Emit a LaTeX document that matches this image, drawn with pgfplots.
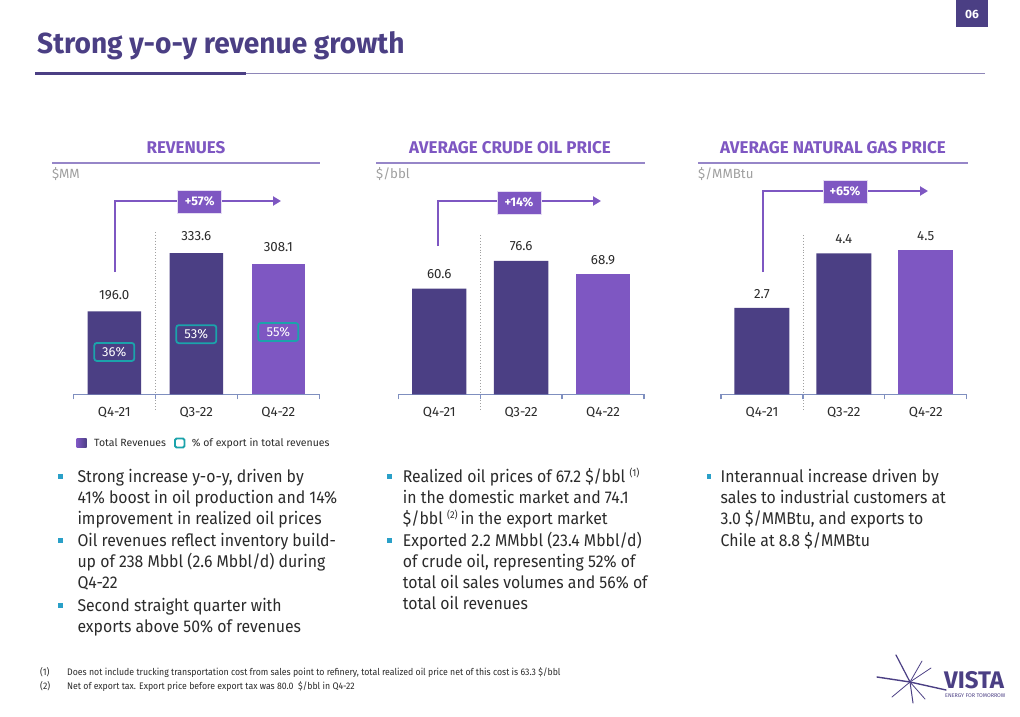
\documentclass[border=0pt]{standalone}
\usepackage{fontspec}
\setmainfont{Fira Sans}
\newfontfamily\bodyf{Fira Sans}[FakeStretch=0.93]
\newfontfamily\footf{Fira Sans}[FakeStretch=0.92]
\newfontfamily\titlef{Fira Sans}[FakeStretch=0.97]
\newfontfamily\condf{Fira Sans}[FakeStretch=0.85]
\usepackage{pgfplots}
\pgfplotsset{compat=1.18}
\usetikzlibrary{arrows.meta}

\definecolor{darkp}{HTML}{4B3F84}
\definecolor{lightp}{HTML}{7E57C2}
\definecolor{headc}{HTML}{7E57C2}
\definecolor{hline}{HTML}{9686C8}
\definecolor{tealc}{HTML}{1BA3AB}
\definecolor{axisc}{HTML}{7F8FBF}
\definecolor{textc}{HTML}{2B2B2B}
\definecolor{greyc}{HTML}{A0A0A0}
\definecolor{bulc}{HTML}{2AA0C8}
\definecolor{tline}{HTML}{8E86B8}

\newcommand\fs[2]{\fontsize{#1}{#2}\selectfont}
\newcommand\body{\bodyf\fs{17}{21}}
\newcommand\lab{\fs{13.3}{15}}
\newcommand\txt[3]{\node[anchor=base west,inner sep=0pt,font=\body,text=textc] at (#1,#2) {#3};}
\newcommand\bul[2]{\fill[bulc] (#1-2.3,#2-2.3) rectangle (#1+2.3,#2+2.3);}
\newcommand\sups[1]{\raisebox{6pt}{\fs{10}{12}(#1)}}

\pgfplotsset{vbar/.style={
  ybar, bar shift=0pt, scale only axis, clip=false, anchor=south west,
  xmin=-0.5, xmax=2.5, ymin=0, height=230pt,
  axis y line=none, axis x line*=bottom,
  x axis line style={draw=axisc, line width=1.3pt, -},
  xtick={0,1,2}, xticklabels={Q4-21,Q3-22,Q4-22},
  major tick length=0pt,
  minor xtick={-0.5,0.5,1.5,2.5}, minor tick length=5pt, tick align=outside,
  minor tick style={draw=axisc, line width=1.3pt},
  xticklabel style={font=\lab, text=textc, yshift=-9pt},
  /pgf/number format/assume math mode=true,
  nodes near coords={\pgfmathprintnumber[fixed,fixed zerofill,precision=1]{\pgfplotspointmeta}},
  every node near coord/.append style={font=\lab, text=textc, anchor=center},
}}

\begin{document}
\begin{tikzpicture}[x=1pt,y=1pt]
\path[use as bounding box, fill=white] (0,0) rectangle (1020,-717);
\coordinate (A1) at (73.3,-394.3);
\coordinate (A2) at (398.3,-394.3);
\coordinate (A3) at (721,-394.3);

\begin{scope}[y=-1pt]
% page number
\fill[darkp] (956,0) rectangle (988,27);
\node[text=white, font=\fs{12}{14}\bfseries] at (972,14) {06};

% title
\node[anchor=base west, inner sep=0pt, text=darkp, font=\titlef\fs{29}{34}\bfseries] at (37,54) {Strong y-o-y revenue growth};
\draw[tline, line width=1.8pt] (245,73.5) -- (985,73.5);
\draw[darkp, line width=3pt] (35,73.5) -- (246,73.5);

% headers
\node[text=headc, font=\fs{17}{20}\bfseries] at (186,148) {REVENUES};
\node[text=headc, font=\fs{17}{20}\bfseries] at (510,148) {AVERAGE CRUDE OIL PRICE};
\node[text=headc, font=\fs{17}{20}\bfseries] at (833,148) {AVERAGE NATURAL GAS PRICE};
\draw[hline, line width=1.5pt] (52,163) -- (320,163);
\draw[hline, line width=1.5pt] (376,163) -- (645,163);
\draw[hline, line width=1.5pt] (698,163) -- (968,163);
\node[anchor=west, inner sep=0pt, text=greyc, font=\lab] at (52,174) {\$MM};
\node[anchor=west, inner sep=0pt, text=greyc, font=\lab] at (376,174) {\$/bbl};
\node[anchor=west, inner sep=0pt, text=greyc, font=\lab] at (698,174) {\$/MMBtu};

% dotted separators
\draw[greyc, dotted, line width=0.9pt] (155,232) -- (155,410);
\draw[greyc, dotted, line width=0.9pt] (480,235) -- (480,410);
\draw[greyc, dotted, line width=0.9pt] (803,235) -- (803,410);
\end{scope}

% ---- Revenues
\begin{axis}[vbar, at={(A1)}, width=246pt, ymax=543.1, bar width=53.4pt,
  every node near coord/.append style={yshift=16.5pt}]
\addplot[fill=darkp, draw=none] coordinates {(0,196.0) (1,333.6)};
\addplot[fill=lightp, draw=none] coordinates {(2,308.1)};
\foreach \xx/\yy/\tt in {0/100/36,1/142/53,2/147/55}{
  \edef\tmp{\noexpand\node[draw=tealc, line width=1.8pt, rounded corners=2.5pt, minimum width=40pt, minimum height=18pt, inner sep=0pt, text=white, font=\noexpand\fs{13}{15}] at (axis cs:\xx,\yy) {\tt\noexpand\%};}
  \tmp
}
\end{axis}

% ---- Crude oil
\begin{axis}[vbar, at={(A2)}, width=245.7pt, ymax=131.96, bar width=54.4pt,
  every node near coord/.append style={yshift=14.5pt}]
\addplot[fill=darkp, draw=none] coordinates {(0,60.6) (1,76.6)};
\addplot[fill=lightp, draw=none] coordinates {(2,68.9)};
\end{axis}

% ---- Natural gas
\begin{axis}[vbar, at={(A3)}, width=245.7pt, ymax=7.1875, bar width=55pt,
  every node near coord/.append style={yshift=14.3pt}]
\addplot[fill=darkp, draw=none] coordinates {(0,2.7) (1,4.4)};
\addplot[fill=lightp, draw=none] coordinates {(2,4.5)};
\end{axis}

\begin{scope}[y=-1pt]
% growth arrows
\tikzset{garrow/.style={lightp, line width=2pt, -{Triangle[length=8pt,width=9pt]}}}
\tikzset{gbox/.style={fill=lightp, draw=white!80!lightp, line width=0.6pt, minimum width=44pt, minimum height=23pt, inner sep=0pt, text=white, font=\fs{12.5}{14}\bfseries}}
\draw[garrow] (115,272) -- (115,201) -- (281,201);
\node[gbox] at (199.7,201.7) {+57\%};
\draw[garrow] (438.3,246) -- (438.3,201) -- (601,201);
\node[gbox] at (519,202.7) {+14\%};
\draw[garrow] (762.7,272) -- (762.7,191) -- (928,191);
\node[gbox] at (845,191.7) {+65\%};

% legend
\shade[left color=lightp, right color=darkp] (76.7,438) rectangle (86.7,447.5);
\node[anchor=base west, inner sep=0pt, text=textc, font=\fs{10.5}{12}] at (94,446.5) {Total Revenues};
\draw[tealc, line width=1.8pt, rounded corners=1.5pt] (175,438.5) rectangle (184.5,447.5);
\node[anchor=base west, inner sep=0pt, text=textc, font=\fs{10.5}{12}] at (191.7,446.5) {\% of export in total revenues};

% bullets column 1
\bul{60.5}{476.7}
\txt{77.3}{482}{Strong increase y-o-y, driven by}
\txt{77.3}{503}{41\% boost in oil production and 14\%}
\txt{77.3}{524}{improvement in realized oil prices}
\bul{60.5}{540.7}
\txt{77.3}{546}{Oil revenues reflect inventory build-}
\txt{77.3}{567}{up of 238 Mbbl (2.6 Mbbl/d) during}
\txt{77.3}{588}{Q4-22}
\bul{60.5}{605.7}
\txt{77.3}{611}{Second straight quarter with}
\txt{77.3}{632}{exports above 50\% of revenues}

% bullets column 2
\bul{389.5}{476.7}
\txt{402.7}{482}{Realized oil prices of 67.2 \$/bbl \sups{1}}
\txt{402.7}{503}{in the domestic market and 74.1}
\txt{402.7}{524}{\$/bbl \sups{2}\,in the export market}
\bul{389.5}{540.7}
\txt{402.7}{546}{Exported 2.2 MMbbl (23.4 Mbbl/d)}
\txt{402.7}{567}{of crude oil, representing 52\% of}
\txt{402.7}{588}{total oil sales volumes and 56\% of}
\txt{402.7}{609}{total oil revenues}

% bullets column 3
\bul{709}{476.7}
\txt{720.5}{482}{Interannual increase driven by}
\txt{720.5}{503}{sales to industrial customers at}
\txt{720.5}{524}{3.0 \$/MMBtu, and exports to}
\txt{720.5}{546}{Chile at 8.8 \$/MMBtu}

% footnotes
\node[anchor=base west, inner sep=0pt, text=textc, font=\footf\fs{9.5}{11}] at (40,675) {(1)};
\node[anchor=base west, inner sep=0pt, text=textc, font=\footf\fs{9.5}{11}] at (67,675) {Does not include trucking transportation cost from sales point to refinery, total realized oil price net of this cost is 63.3 \$/bbl};
\node[anchor=base west, inner sep=0pt, text=textc, font=\footf\fs{9.5}{11}] at (40,689) {(2)};
\node[anchor=base west, inner sep=0pt, text=textc, font=\footf\fs{9.5}{11}] at (67,689) {Net of export tax. Export price before export tax was 80.0\ \ \$/bbl in Q4-22};

% logo
\begin{scope}[darkp, line cap=round]
\draw[line width=1.2pt] (910,682) -- (896,655);
\draw[line width=0.8pt] (910,682) -- (922,661);
\draw[line width=0.8pt] (910,682) -- (931,668);
\draw[line width=1.4pt] (910,682) -- (877,677);
\draw[line width=0.8pt] (910,682) -- (892,697);
\draw[line width=1.0pt] (910,682) -- (913,703);
\draw[line width=0.8pt] (910,682) -- (925,699);
\draw[line width=1.4pt] (910,682) -- (946,690);
\end{scope}
\node[anchor=base west, inner sep=0pt, text=darkp, font=\fs{24}{25}\bfseries] at (944,688.5) {VISTA};
\node[anchor=base west, inner sep=0pt, text=darkp, font=\fs{5.4}{6}] at (945,697.5) {ENERGY FOR TOMORROW};
\end{scope}
\end{tikzpicture}
\end{document}
